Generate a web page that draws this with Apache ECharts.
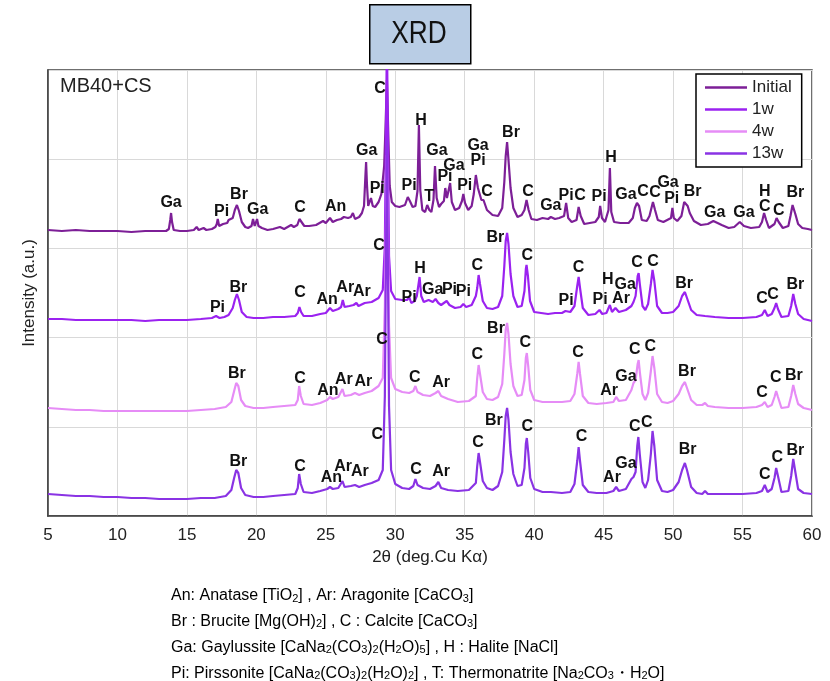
<!DOCTYPE html>
<html>
<head>
<meta charset="utf-8">
<script src="https://cdn.jsdelivr.net/npm/echarts@6/dist/echarts.min.js"></script>
<style>
  html, body { margin: 0; padding: 0; background: #fff; }
  #chart { width: 830px; height: 681px; }
</style>
</head>
<body>
<div id="chart"></div>
<script>
// ---- XRD patterns of MB40+CS: [2θ (deg), intensity (a.u.)] ----
const seriesNames = ['Initial', '1w', '4w', '13w'];
// vertical stacking offset of each pattern (same order as seriesNames)
const traceOffsets = [270, 180, 90, 0];

const initialPattern = [
  [5,16],[6,15],[7,16],[8,15],[9,15],[10,15],[11,14],[12,15],[13,15],[13.5,15],
  [13.7,17],[13.8,26],[13.86,33],[13.93,24],[14.05,16],
  [14.5,15],[15,15],[15.5,16],[15.7,19],[15.85,16],[16.2,18],[16.4,16],[16.8,17],[17.05,19],
  [17.15,22],[17.22,27],[17.32,20],[17.45,21],[17.6,22],[17.7,20],[17.9,23],[18.0,26],[18.1,24],
  [18.3,28],[18.45,36],[18.6,41],[18.75,35],[18.95,24],[19.2,19],[19.4,18],
  [19.65,20],[19.76,27],[19.88,20],[20.05,27],[20.15,20],[20.4,18],[20.8,16],[21.2,17],[21.7,19],[22.0,17],[22.5,21],[22.7,19],
  [22.95,21],[23.1,27],[23.25,24],[23.45,20],[23.8,20],[24.3,21],[24.8,25],[25.0,23],
  [25.3,28],[25.5,24],[25.8,26],[26.1,27],[26.3,29],[26.6,28],[26.8,29],
  [26.95,33],[27.1,27],[27.4,29],[27.6,33],
  [27.75,40],[27.85,70],[27.9,84],[27.96,62],[28.05,40],
  [28.15,42],[28.25,48],[28.38,40],[28.55,39],[28.8,44],[29.0,52],[29.2,80],
  [29.3,120],[29.4,166],[29.5,110],[29.6,60],[29.75,44],[30.0,40],[30.3,39],
  [30.7,41],[30.9,49],[31.05,45],[31.25,39],[31.45,40],
  [31.6,55],[31.7,121],[31.8,56],[31.95,36],[32.15,34],
  [32.3,41],[32.45,36],[32.6,34],
  [32.75,46],[32.86,80],[32.98,48],[33.15,39],[33.3,42],
  [33.5,45],[33.6,58],[33.72,48],
  [33.85,50],[33.95,63],[34.07,44],[34.3,36],[34.6,38],
  [34.8,45],[34.9,52],[35.02,43],[35.25,36],[35.5,40],
  [35.65,52],[35.8,71],[35.95,58],[36.2,46],[36.35,46],[36.6,36],[37.0,31],[37.4,30],[37.7,38],
  [37.85,64],[37.95,90],[38.05,104],[38.15,86],[38.3,58],[38.5,38],[38.8,29],[39.1,31],
  [39.3,36],[39.45,46],[39.6,36],[39.8,27],[40.2,26],[40.6,28],[41.0,27],[41.2,29],[41.5,27],[41.8,28],
  [42.15,30],[42.3,43],[42.45,28],[42.7,24],
  [43.05,26],[43.2,39],[43.35,30],[43.6,22],[44.0,23],[44.4,24],
  [44.65,29],[44.75,40],[44.88,28],[45.1,24],
  [45.35,36],[45.45,78],[45.55,34],[45.75,24],[46.2,23],[46.8,23],[47.1,28],
  [47.25,38],[47.4,43],[47.55,40],[47.75,26],[48.1,25],[48.3,30],
  [48.55,44],[48.7,36],[48.9,26],[49.3,24],
  [49.85,28],[49.95,38],[50.05,28],[50.3,25],
  [50.6,30],[50.8,44],[50.9,46],[51.05,40],[51.2,33],[51.3,35],[51.5,25],[52,21],[52.5,22],
  [52.9,25],[53.2,23],[53.5,21],[54,18],[54.4,19],
  [54.8,24],[55.1,20],[55.6,18],[56.2,19],[56.4,24],
  [56.55,33],[56.7,26],[56.9,18],[57.3,22],
  [57.45,28],[57.6,24],[57.9,18],[58.3,20],[58.45,30],
  [58.6,41],[58.8,32],[59.0,22],[59.3,18],[59.7,17],[60,16]
];

const week1Pattern = [
  [5,17],[6,17],[7,16],[8,16],[9,16],[10,16],[11,16],[12,15],[13,16],[14,16],[15,16],[16,17],[16.8,18],
  [17.1,20],[17.2,21],[17.35,18],[17.7,19],[18.0,21],[18.3,28],
  [18.45,36],[18.6,42],[18.75,36],[18.95,24],[19.3,19],[19.8,18],[20.5,18],[21.2,19],[22,19],[22.8,20],
  [22.98,23],[23.1,29],[23.22,24],[23.4,20],[24.0,20],[24.6,22],[25.0,23],
  [25.3,28],[25.5,25],[25.9,27],[26.1,29],
  [26.22,36],[26.35,29],[26.7,30],[27.0,31],
  [27.2,33],[27.35,30],[27.8,33],[28.3,34],[28.8,38],[29.1,46],[29.25,90],
  [29.4,300],[29.55,80],[29.7,45],[30.0,37],[30.5,36],
  [30.85,36],[31.0,39],[31.15,33],[31.4,35],[31.55,40],
  [31.75,59],[31.87,40],[32.05,34],
  [32.4,36],[32.7,34],[32.9,37],[33.1,33],[33.3,31],
  [33.7,35],[33.9,31],[34.3,28],[34.7,29],
  [34.9,32],[35.1,29],[35.5,31],[35.8,40],
  [35.9,48],[36.0,61],[36.1,52],[36.3,35],[36.6,28],[37.0,27],[37.4,29],[37.7,40],
  [37.85,70],[37.95,95],[38.05,103],[38.15,92],[38.3,62],[38.5,40],[38.8,29],[39.1,30],
  [39.3,45],[39.4,67],[39.45,71],[39.55,60],[39.7,35],[40.0,24],[40.5,23],[41.0,22],[41.5,23],[42.0,23],
  [42.25,25],[42.35,24],[42.6,24],[42.9,30],
  [43.1,50],[43.2,59],[43.3,48],[43.5,28],[43.9,21],[44.4,22],
  [44.7,26],[44.9,22],[45.2,23],
  [45.45,31],[45.6,24],
  [45.85,28],[46.1,24],[46.6,26],[47.0,30],
  [47.15,34],[47.3,40],
  [47.45,60],[47.52,63],[47.62,50],[47.8,30],[48.0,26],[48.2,32],
  [48.4,52],[48.52,66],[48.65,55],[48.85,30],[49.2,23],[49.6,23],[50.0,24],[50.4,30],
  [50.65,40],[50.85,44],[51.0,38],[51.3,26],[51.7,21],[52.3,20],[53,19],[54,18],[55,18],[56,19],[56.4,21],
  [56.6,26],[56.8,20],[57.1,22],
  [57.3,28],[57.42,33],[57.55,27],[57.8,19],[58.3,20],[58.5,30],
  [58.65,42],[58.8,32],[59.0,22],[59.4,17],[60,15]
];

const week4Pattern = [
  [5,18],[6,17],[7,16],[8,16],[9,15],[10,15],[11,15],[12,15],[13,15],[14,15],[15,15],[16,16],[17,17],[17.8,19],[18.2,24],
  [18.4,35],[18.55,43],[18.7,40],[18.9,26],[19.2,20],[19.8,18],[20.5,18],[21.2,19],[22,20],[22.8,21],
  [22.98,26],[23.08,40],[23.2,30],[23.4,22],[24,21],[24.6,23],[25.1,26],
  [25.3,29],[25.5,27],[25.9,29],
  [26.2,37],[26.35,30],[26.8,31],[27.1,33],
  [27.22,35],[27.4,31],[27.8,33],[28.3,35],[28.8,40],[29.1,48],[29.25,120],
  [29.4,271],[29.55,100],[29.7,48],[30.0,37],[30.5,34],[31.0,33],[31.3,35],
  [31.45,40],[31.6,34],[32.0,31],[32.5,30],[32.9,33],
  [33.1,35],[33.3,30],[33.8,27],[34.5,24],[35.3,25],[35.8,30],
  [35.9,48],[36.0,61],[36.1,52],[36.3,34],[36.6,27],[37.0,26],[37.4,29],[37.7,42],
  [37.85,72],[37.95,96],[38.05,103],[38.15,92],[38.3,62],[38.5,40],[38.8,30],[39.1,31],
  [39.3,46],[39.4,68],[39.47,73],[39.57,60],[39.72,36],[40.0,26],[40.6,24],[41.2,24],[42,24],[42.6,25],[42.9,32],
  [43.1,52],[43.2,64],[43.3,52],[43.5,30],[43.9,23],[44.5,22],[45.2,23],[45.7,24],
  [45.9,29],[46.1,25],[46.6,26],[47.0,36],
  [47.15,43],[47.3,46],
  [47.45,62],[47.52,66],[47.62,52],[47.8,32],[48.0,26],[48.2,33],
  [48.4,55],[48.52,70],[48.65,58],[48.85,32],[49.2,24],[49.6,23],[50.0,25],[50.4,32],
  [50.65,40],[50.85,44],[51.0,38],[51.3,26],[51.7,21],[52.1,21],[52.3,23],[52.5,20],[53,19],[54,18],[55,18],[56,19],[56.4,21],
  [56.6,24],[56.8,19],[57.1,21],
  [57.3,29],[57.42,35],[57.55,29],[57.8,18],[58.3,19],[58.5,30],
  [58.65,41],[58.8,32],[59.0,22],[59.4,18],[60,16]
];

const week13Pattern = [
  [5,22],[6,21],[7,20],[8,20],[9,19],[10,19],[11,18],[12,18],[13,17],[14,17],[15,17],[16,18],[17,18],[17.8,20],[18.2,26],
  [18.4,38],[18.55,46],[18.7,43],[18.9,28],[19.2,21],[19.8,19],[20.5,19],[21.2,20],[22,21],[22.8,22],
  [22.98,28],[23.08,42],[23.2,32],[23.4,24],[24,23],[24.6,25],[25.1,27],
  [25.3,29],[25.5,27],[25.9,28],
  [26.2,35],[26.35,29],[26.8,30],[27.1,31],
  [27.22,33],[27.4,29],[27.8,31],[28.3,33],[28.8,36],[29.1,46],[29.25,120],
  [29.4,376],[29.55,110],[29.7,46],[30.0,32],[30.5,28],[31.0,27],[31.3,30],
  [31.45,37],[31.6,31],[32.0,28],[32.5,27],[32.9,30],
  [33.1,34],[33.3,28],[33.8,26],[34.5,25],[35.3,26],[35.8,33],
  [35.9,50],[36.0,63],[36.1,54],[36.3,35],[36.6,28],[37.0,26],[37.4,30],[37.7,44],
  [37.85,76],[37.95,100],[38.05,108],[38.15,96],[38.3,64],[38.5,42],[38.8,30],[39.1,31],
  [39.3,48],[39.4,72],[39.47,78],[39.57,64],[39.72,38],[40.0,27],[40.6,24],[41.2,24],[42,23],[42.6,24],[42.9,32],
  [43.1,55],[43.2,69],[43.3,55],[43.5,31],[43.9,24],[44.5,23],[45.2,23],[45.7,25],
  [45.9,29],[46.1,25],[46.6,27],[47.0,37],
  [47.15,39],[47.3,44],
  [47.42,70],[47.5,79],[47.6,62],[47.8,34],[48.0,28],[48.2,36],
  [48.4,62],[48.52,85],[48.65,70],[48.85,36],[49.2,25],[49.6,24],[50.0,26],[50.4,34],
  [50.65,46],[50.85,53],[51.0,46],[51.3,29],[51.7,23],[52.1,22],[52.3,25],[52.5,22],[53,22],[54,22],[55,22],[56,23],[56.4,25],
  [56.6,31],[56.8,24],[57.1,27],
  [57.3,38],[57.42,48],[57.55,40],[57.8,24],[58.3,25],[58.5,40],
  [58.65,57],[58.8,44],[59.0,27],[59.4,23],[60,22]
];

// phase identification labels: [phase, 2θ, height above the pattern's own zero]
const initialPeaks = [
  ['Ga',13.86,43],['Pi',17.5,34],['Br',18.75,51],['Ga',20.1,36],['C',23.15,38],['An',25.7,39],
  ['Ga',27.95,95],['Pi',28.7,57],['C',28.9,157],['Pi',31.0,60],['H',31.85,125],['T',32.43,49],
  ['Ga',33.0,95],['Pi',33.58,69],['Ga',34.23,80],['Pi',35.0,60],['Ga',35.96,100],['Pi',35.96,85],
  ['C',36.6,54],['Br',38.33,113],['C',39.55,54],['Ga',41.2,40],['Pi',42.3,50],['C',43.3,50],
  ['Pi',44.67,49],['H',45.53,88],['Ga',46.6,51],['C',47.84,54],['C',48.7,53],['Ga',49.64,63],
  ['Pi',49.9,47],['Br',51.4,54],['Ga',53.0,33],['Ga',55.1,33],['H',56.6,54],['C',56.6,39],
  ['C',57.6,35],['Br',58.8,53]
];
const week1Peaks = [
  ['Pi',17.2,28],['Br',18.7,48],['C',23.15,43],['An',25.1,36],['Ar',26.4,48],['Ar',27.6,44],
  ['C',28.83,90],['Pi',31.0,38],['H',31.78,67],['Ga',32.7,46],['Pi',33.9,46],['Pi',34.9,44],
  ['C',35.9,70],['Br',37.2,98],['C',39.5,80],['Pi',42.3,35],['C',43.2,68],['Pi',44.75,36],
  ['H',45.3,56],['Ar',46.25,37],['Ga',46.55,51],['C',47.4,73],['C',48.56,74],['Br',50.8,52],
  ['C',56.4,37],['C',57.2,41],['Br',58.8,51]
];
const week4Peaks = [
  ['Br',18.6,52],['C',23.15,47],['An',25.15,35],['Ar',26.3,46],['Ar',27.7,44],['C',29.05,86],
  ['C',31.4,48],['Ar',33.3,43],['C',35.9,71],['Br',37.25,97],['C',39.35,83],['C',43.15,73],
  ['Ar',45.4,35],['Ga',46.6,49],['C',47.25,76],['C',48.35,79],['Br',51.0,54],['C',56.4,33],
  ['C',57.4,48],['Br',58.7,50]
];
const week13Peaks = [
  ['Br',18.7,54],['C',23.15,49],['An',25.4,38],['Ar',26.25,49],['Ar',27.45,44],['C',28.7,81],
  ['C',31.5,46],['Ar',33.3,44],['C',35.96,73],['Br',37.1,95],['C',39.5,89],['C',43.4,79],
  ['Ar',45.6,38],['Ga',46.6,52],['C',47.25,89],['C',48.1,93],['Br',51.05,66],['C',56.6,41],
  ['C',57.5,58],['Br',58.8,65]
];

// x axis range and tick step (2θ)
const xRange = [5, 60];
const xStep = 5;

// phase legend under the plot; _{…} marks a subscript
const phaseNotes = [
  'An: Anatase [TiO_{2}] , Ar: Aragonite [CaCO_{3}]',
  'Br : Brucite [Mg(OH)_{2}] , C : Calcite [CaCO_{3}]',
  'Ga: Gaylussite [CaNa_{2}(CO_{3})_{2}(H_{2}O)_{5}] , H : Halite [NaCl]',
  'Pi: Pirssonite [CaNa_{2}(CO_{3})_{2}(H_{2}O)_{2}] , T: Thermonatrite [Na_{2}CO_{3}・H_{2}O]'
];

// ---- rendering ----
const patterns = [initialPattern, week1Pattern, week4Pattern, week13Pattern];
const peakSets = [initialPeaks, week1Peaks, week4Peaks, week13Peaks];
const colors = ['#7d1f97', '#9b22f0', '#e68cf6', '#8a33e4'];
const FONT = '"Liberation Sans", Arial, Helvetica, sans-serif';

const lineSeries = seriesNames.map((name, i) => ({
  name,
  type: 'line',
  data: patterns[i].map(p => [p[0], p[1] + traceOffsets[i]]),
  showSymbol: false,
  symbol: 'none',
  smooth: false,
  clip: true,
  lineStyle: { color: colors[i], width: 2.2 },
  itemStyle: { color: colors[i] },
  z: 2 + i
}));

const labelSeries = {
  name: 'phase-labels',
  type: 'scatter',
  silent: true,
  symbolSize: 0,
  z: 20,
  itemStyle: { opacity: 1, color: 'transparent' },
  data: peakSets.flatMap((set, i) => set.map(([txt, x, y]) => ({ name: txt, value: [x, y + traceOffsets[i]] }))),
  label: {
    show: true,
    position: 'inside',
    formatter: p => p.name,
    fontFamily: FONT,
    fontWeight: 'bold',
    fontSize: 16,
    color: '#111',
    opacity: 1
  }
};

function toRich(line) {
  return '{n|' + line.replace(/_\{([^}]*)\}/g, '}{s|$1}{n|') + '}';
}

const noteTexts = phaseNotes.map((line, k) => ({
  type: 'text',
  left: 171,
  top: 588 + k * 25.7,
  style: {
    text: toRich(line),
    rich: {
      n: { fontSize: 16, fontFamily: FONT, color: '#222', lineHeight: 20, verticalAlign: 'bottom' },
      s: { fontSize: 11, fontFamily: FONT, color: '#222', lineHeight: 12, verticalAlign: 'bottom' }
    }
  }
}));

const chart = echarts.init(document.getElementById('chart'), null, { renderer: 'canvas' });
chart.setOption({
  animation: false,
  backgroundColor: '#fff',
  grid: { left: 48, right: 18, top: 70, bottom: 165, show: true, borderColor: '#404040', borderWidth: 1.5, backgroundColor: 'transparent' },
  xAxis: {
    type: 'value', min: xRange[0], max: xRange[1], interval: xStep,
    axisLine: { show: true, lineStyle: { color: '#404040', width: 1.5 } },
    axisTick: { show: false },
    axisLabel: { fontSize: 17, color: '#222', margin: 11, fontFamily: FONT },
    splitLine: { show: true, lineStyle: { color: '#d9d9d9', width: 1 } },
    name: '2θ (deg.Cu Kα)', nameLocation: 'middle', nameGap: 32,
    nameTextStyle: { fontSize: 17, color: '#222', fontFamily: FONT }
  },
  yAxis: {
    type: 'value', min: 0, max: 446, interval: 89.2,
    axisLine: { show: true, lineStyle: { color: '#404040', width: 1.5 } },
    axisTick: { show: false },
    axisLabel: { show: false },
    splitLine: { show: true, lineStyle: { color: '#d9d9d9', width: 1 } },
    name: 'Intensity (a.u.)', nameLocation: 'middle', nameGap: 10,
    nameTextStyle: { fontSize: 17, color: '#222', fontFamily: FONT }
  },
  legend: {
    data: seriesNames,
    orient: 'vertical',
    left: 696, top: 74,
    icon: 'rect',
    itemWidth: 42, itemHeight: 2.5,
    itemGap: 5,
    padding: [5, 10, 5, 9],
    borderColor: '#000', borderWidth: 1.5,
    backgroundColor: '#fff',
    textStyle: { fontSize: 17, color: '#222', lineHeight: 17, fontFamily: FONT },
    selectedMode: false
  },
  series: [...lineSeries, labelSeries],
  graphic: [
    {
      type: 'rect', left: 369, top: 4, z: 10,
      shape: { width: 101, height: 59 },
      style: { fill: '#b9cde5', stroke: '#000', lineWidth: 1.5 }
    },
    {
      type: 'text', x: 419, y: 34, scaleX: 0.82, z: 12,
      style: { text: 'XRD', x: 0, y: 0, fontSize: 32, fontFamily: FONT, fill: '#111', align: 'center', verticalAlign: 'middle' }
    },
    {
      type: 'text', left: 60, top: 76, z: 10,
      style: { text: 'MB40+CS', fontSize: 20, fontFamily: FONT, fill: '#222' }
    },
    ...noteTexts
  ]
});
</script>
</body>
</html>
